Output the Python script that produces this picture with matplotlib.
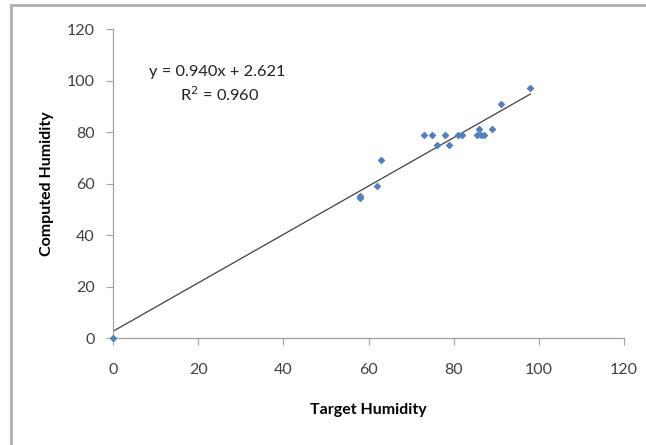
import matplotlib
matplotlib.use('Agg')
import matplotlib.pyplot as plt
import numpy as np
from matplotlib.lines import Line2D

# target vs computed humidity
target = [0, 58, 58, 62, 63, 73, 75, 76, 78, 79, 81, 82, 85.5, 86, 86.5, 87, 89, 91, 98]
computed = [0, 55, 54.5, 59, 69, 79, 79, 75, 79, 75, 79, 79, 79, 81, 79, 79, 81, 91, 97]
slope, intercept = 0.940, 2.621
r2 = 0.960

xticks = [0, 20, 40, 60, 80, 100, 120]
yticks = [0, 20, 40, 60, 80, 100, 120]

plt.rcParams['font.family'] = ['Lato', 'DejaVu Sans']

fig = plt.figure(figsize=(6.46, 4.45), dpi=100)
ax = fig.add_axes([0.175, 0.2404, 0.791, 0.6944])

# trend line
xl = np.array([0, 98])
ax.plot(xl, slope * xl + intercept, color='#404040', lw=0.9)
ax.scatter(target, computed, s=9, marker='D', color='#4F81BD', zorder=3, clip_on=False)

ax.set_xlim(0, 120)
ax.set_ylim(0, 120)
ax.set_xticks(xticks)
ax.set_yticks(yticks)
ax.tick_params(labelsize=11.5, labelcolor='#404040', color='#a0a0a0', length=5, width=0.8)
ax.tick_params(axis='x', pad=13)
ax.tick_params(axis='y', pad=8)
for s in ['top', 'right']:
    ax.spines[s].set_visible(False)
for s in ['left', 'bottom']:
    ax.spines[s].set_color('#a0a0a0')
    ax.spines[s].set_linewidth(0.9)

ax.set_xlabel('Target Humidity', fontsize=11.5, fontweight='bold', va='center')
ax.set_ylabel('Computed Humidity', fontsize=11.5, fontweight='bold', va='center')
ax.xaxis.set_label_coords(0.5, -0.233)
ax.yaxis.set_label_coords(-0.129, 0.5)

ax.text(24.4, 103.5, f'y = {slope:.3f}x + {intercept:.3f}', ha='center', va='center',
        fontsize=11.8, color='#202020')
ax.text(25.1, 94.4, f'R$^2$ = {r2:.3f}', ha='center', va='center',
        fontsize=11.8, color='#202020')

# outer frame, only left and top edges visible
fig.add_artist(Line2D([0.017, 0.017], [0, 0.989], transform=fig.transFigure, color='#b0b0b0', lw=2))
fig.add_artist(Line2D([0.017, 1], [0.989, 0.989], transform=fig.transFigure, color='#b0b0b0', lw=2))

fig.savefig('out.png', dpi=100)
